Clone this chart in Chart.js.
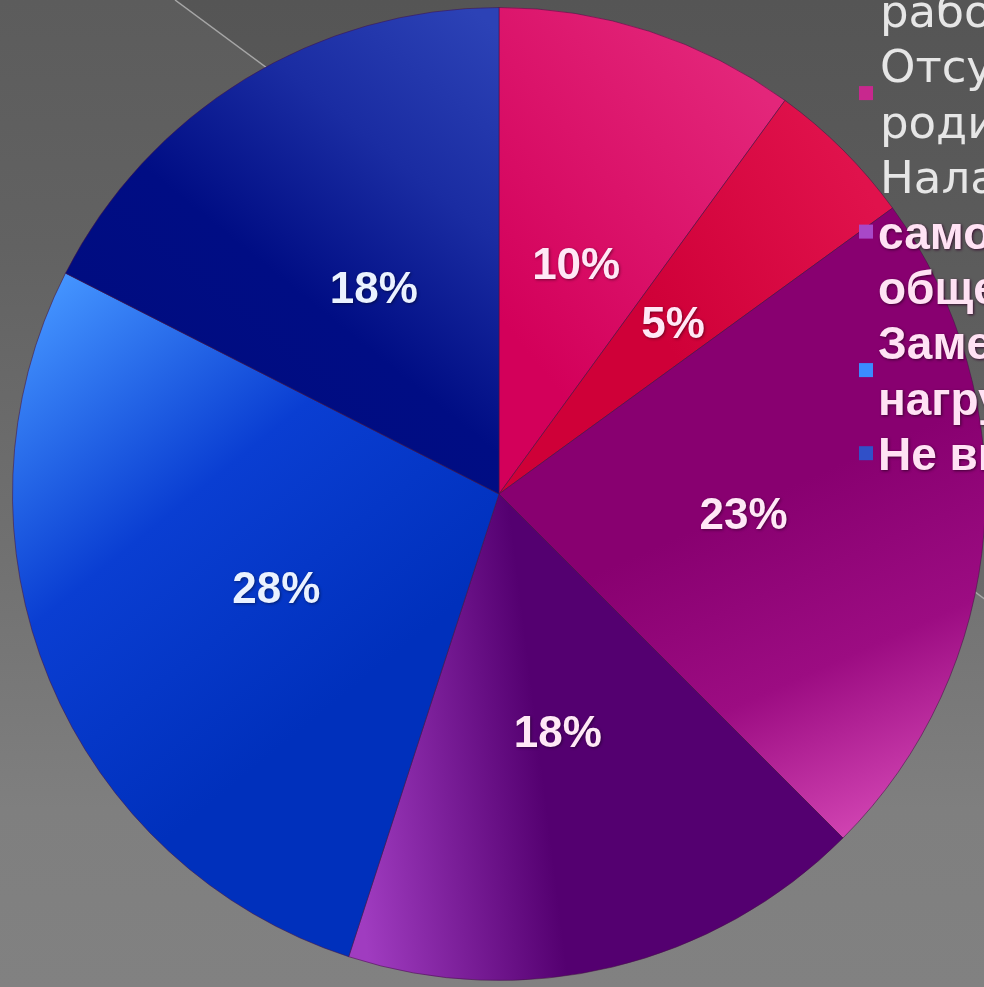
<!DOCTYPE html>
<html>
<head>
    <meta charset="UTF-8">
    <title>Pie chart</title>
    <script src="https://cdn.jsdelivr.net/npm/chart.js"></script>
    <style>
        html, body {
            margin: 0;
            padding: 0;
            width: 984px;
            height: 987px;
            overflow: hidden;
            background: linear-gradient(to bottom, #5c5c5c 0%, #626262 25%, #707070 55%, #7f7f7f 82%, #818181 100%);
        }
        canvas { display: block; }
    </style>
</head>
<body>
    <canvas id="myChart" width="1300" height="987"></canvas>

    <script>
        // legend text, one array of lines per category (the legend is cut by the right edge)
        const legendLines = [
            ['Повышение', 'мотивации'],
            ['Снижение интереса к', 'работе'],
            ['Отсутствие контроля', 'родителей'],
            ['Налаживание', 'самооценки и', 'общения'],
            ['Заметное снижение', 'нагрузки'],
            ['Не вижу изменений']
        ];
        const categories = legendLines.map(l => l.join(' '));
        // shares in percent
        const shares = [10, 5, 22.5, 17.5, 27.5, 17.5];

        // gradient per slice, points given in units of the radius from the centre
        const sliceFills = [
            { a: [0.05, -0.3], b: [0.6, -0.75], stops: ['#d3005a', '#e3267a'] },
            { a: [0.35, -0.3], b: [0.8, -0.55], stops: ['#cf0038', '#e0124c'] },
            { a: [0.45, 0.05], b: [0.75, 0.72], stops: ['#880070', '#9c0c82', '#d548b6'] },
            { a: [-0.32, 0.55], b: [0.08, 0.5], stops: ['#a03cc0', '#540070'] },
            { a: [-0.95, -0.4], b: [-0.3, 0.4], stops: ['#4494ff', '#0a3ed2', '#0030bc'] },
            { a: [-0.85, 0.1], b: [0.0, -0.95], stops: ['#0a1ba2', '#000c80', '#000d84', '#1a2ca2', '#2c42b6'] }
        ];
        const swatches = ['#d8106a', '#d80040', '#c8288e', '#a848c8', '#3a8cff', '#3050c8'];

        function sliceFill(context) {
            const chart = context.chart;
            const area = chart.chartArea;
            const f = sliceFills[context.dataIndex];
            if (!area || !f) return f ? f.stops[0] : '#888';
            const cx = (area.left + area.right) / 2;
            const cy = (area.top + area.bottom) / 2;
            const R = Math.min(area.width, area.height) / 2;
            const g = chart.ctx.createLinearGradient(cx + f.a[0] * R, cy + f.a[1] * R, cx + f.b[0] * R, cy + f.b[1] * R);
            f.stops.forEach((c, i) => g.addColorStop(i / (f.stops.length - 1), c));
            return g;
        }

        // grey slide background with the thin diagonal line
        const backdrop = {
            id: 'backdrop',
            beforeDraw(chart) {
                const ctx = chart.ctx;
                const endY = (chart.width - 175) * 0.74;
                ctx.save();
                ctx.fillStyle = 'rgba(0,0,0,0.07)';
                ctx.beginPath();
                ctx.moveTo(175, 0);
                ctx.lineTo(chart.width, 0);
                ctx.lineTo(chart.width, endY);
                ctx.closePath();
                ctx.fill();
                ctx.strokeStyle = '#a6a6a6';
                ctx.lineWidth = 1.5;
                ctx.beginPath();
                ctx.moveTo(175, 0);
                ctx.lineTo(chart.width, endY);
                ctx.stroke();
                ctx.restore();
            }
        };

        // percent labels in the middle of each slice
        const sliceLabels = {
            id: 'sliceLabels',
            afterDatasetsDraw(chart) {
                const ctx = chart.ctx;
                const meta = chart.getDatasetMeta(0);
                const total = shares.reduce((s, v) => s + v, 0);
                ctx.save();
                ctx.font = 'bold 44px "Liberation Sans", Arial, sans-serif';
                ctx.textAlign = 'center';
                ctx.textBaseline = 'middle';
                ctx.shadowColor = 'rgba(0,0,0,0.45)';
                ctx.shadowBlur = 3;
                ctx.shadowOffsetX = 1;
                ctx.shadowOffsetY = 1;
                meta.data.forEach((arc, i) => {
                    const p = arc.getCenterPoint();
                    ctx.fillStyle = i >= 4 ? '#eaf2ff' : '#ffe8f6';
                    ctx.fillText(Math.round(shares[i] / total * 100) + '%', p.x + 2, p.y + 4);
                });
                ctx.restore();
            }
        };

        // legend on the right, drawn over the pie like in the slide
        const sideLegend = {
            id: 'sideLegend',
            afterDraw(chart, args, opts) {
                const ctx = chart.ctx;
                let k = opts.firstLine;
                ctx.save();
                ctx.textBaseline = 'alphabetic';
                legendLines.forEach((lines, i) => {
                    const bases = [];
                    lines.forEach(text => {
                        const y = opts.top + k * opts.lineHeight;
                        bases.push(y);
                        if (k >= opts.boldFromLine) {
                            ctx.font = 'bold 46px "Liberation Sans", Arial, sans-serif';
                            ctx.fillStyle = '#ffe2f4';
                            ctx.shadowColor = 'rgba(50,0,40,0.85)';
                            ctx.shadowBlur = 3;
                            ctx.shadowOffsetX = 1;
                            ctx.shadowOffsetY = 1;
                            ctx.fillText(text, opts.x - 2, y);
                        } else {
                            ctx.font = '45px "DejaVu Sans", sans-serif';
                            ctx.fillStyle = '#e6e6e6';
                            ctx.shadowColor = 'transparent';
                            ctx.fillText(text, opts.x, y);
                        }
                        k++;
                    });
                    const my = bases.reduce((s, v) => s + v, 0) / bases.length - 17;
                    ctx.shadowColor = 'transparent';
                    ctx.fillStyle = swatches[i];
                    ctx.fillRect(opts.x - 21, my - 7, 14, 14);
                });
                ctx.restore();
            }
        };

        const ctx = document.getElementById('myChart').getContext('2d');
        new Chart(ctx, {
            type: 'pie',
            data: {
                labels: categories,
                datasets: [{
                    data: shares,
                    backgroundColor: sliceFill,
                    borderColor: 'rgba(70,20,70,0.55)',
                    borderWidth: 1
                }]
            },
            options: {
                responsive: false,
                devicePixelRatio: 1,
                animation: false,
                layout: { padding: { left: 12, top: 7, right: 314, bottom: 6 } },
                plugins: {
                    legend: { display: false },
                    tooltip: { enabled: false },
                    sideLegend: { x: 880, top: 27, lineHeight: 55.4, firstLine: -3, boldFromLine: 4 }
                }
            },
            plugins: [backdrop, sliceLabels, sideLegend]
        });
    </script>
</body>
</html>
